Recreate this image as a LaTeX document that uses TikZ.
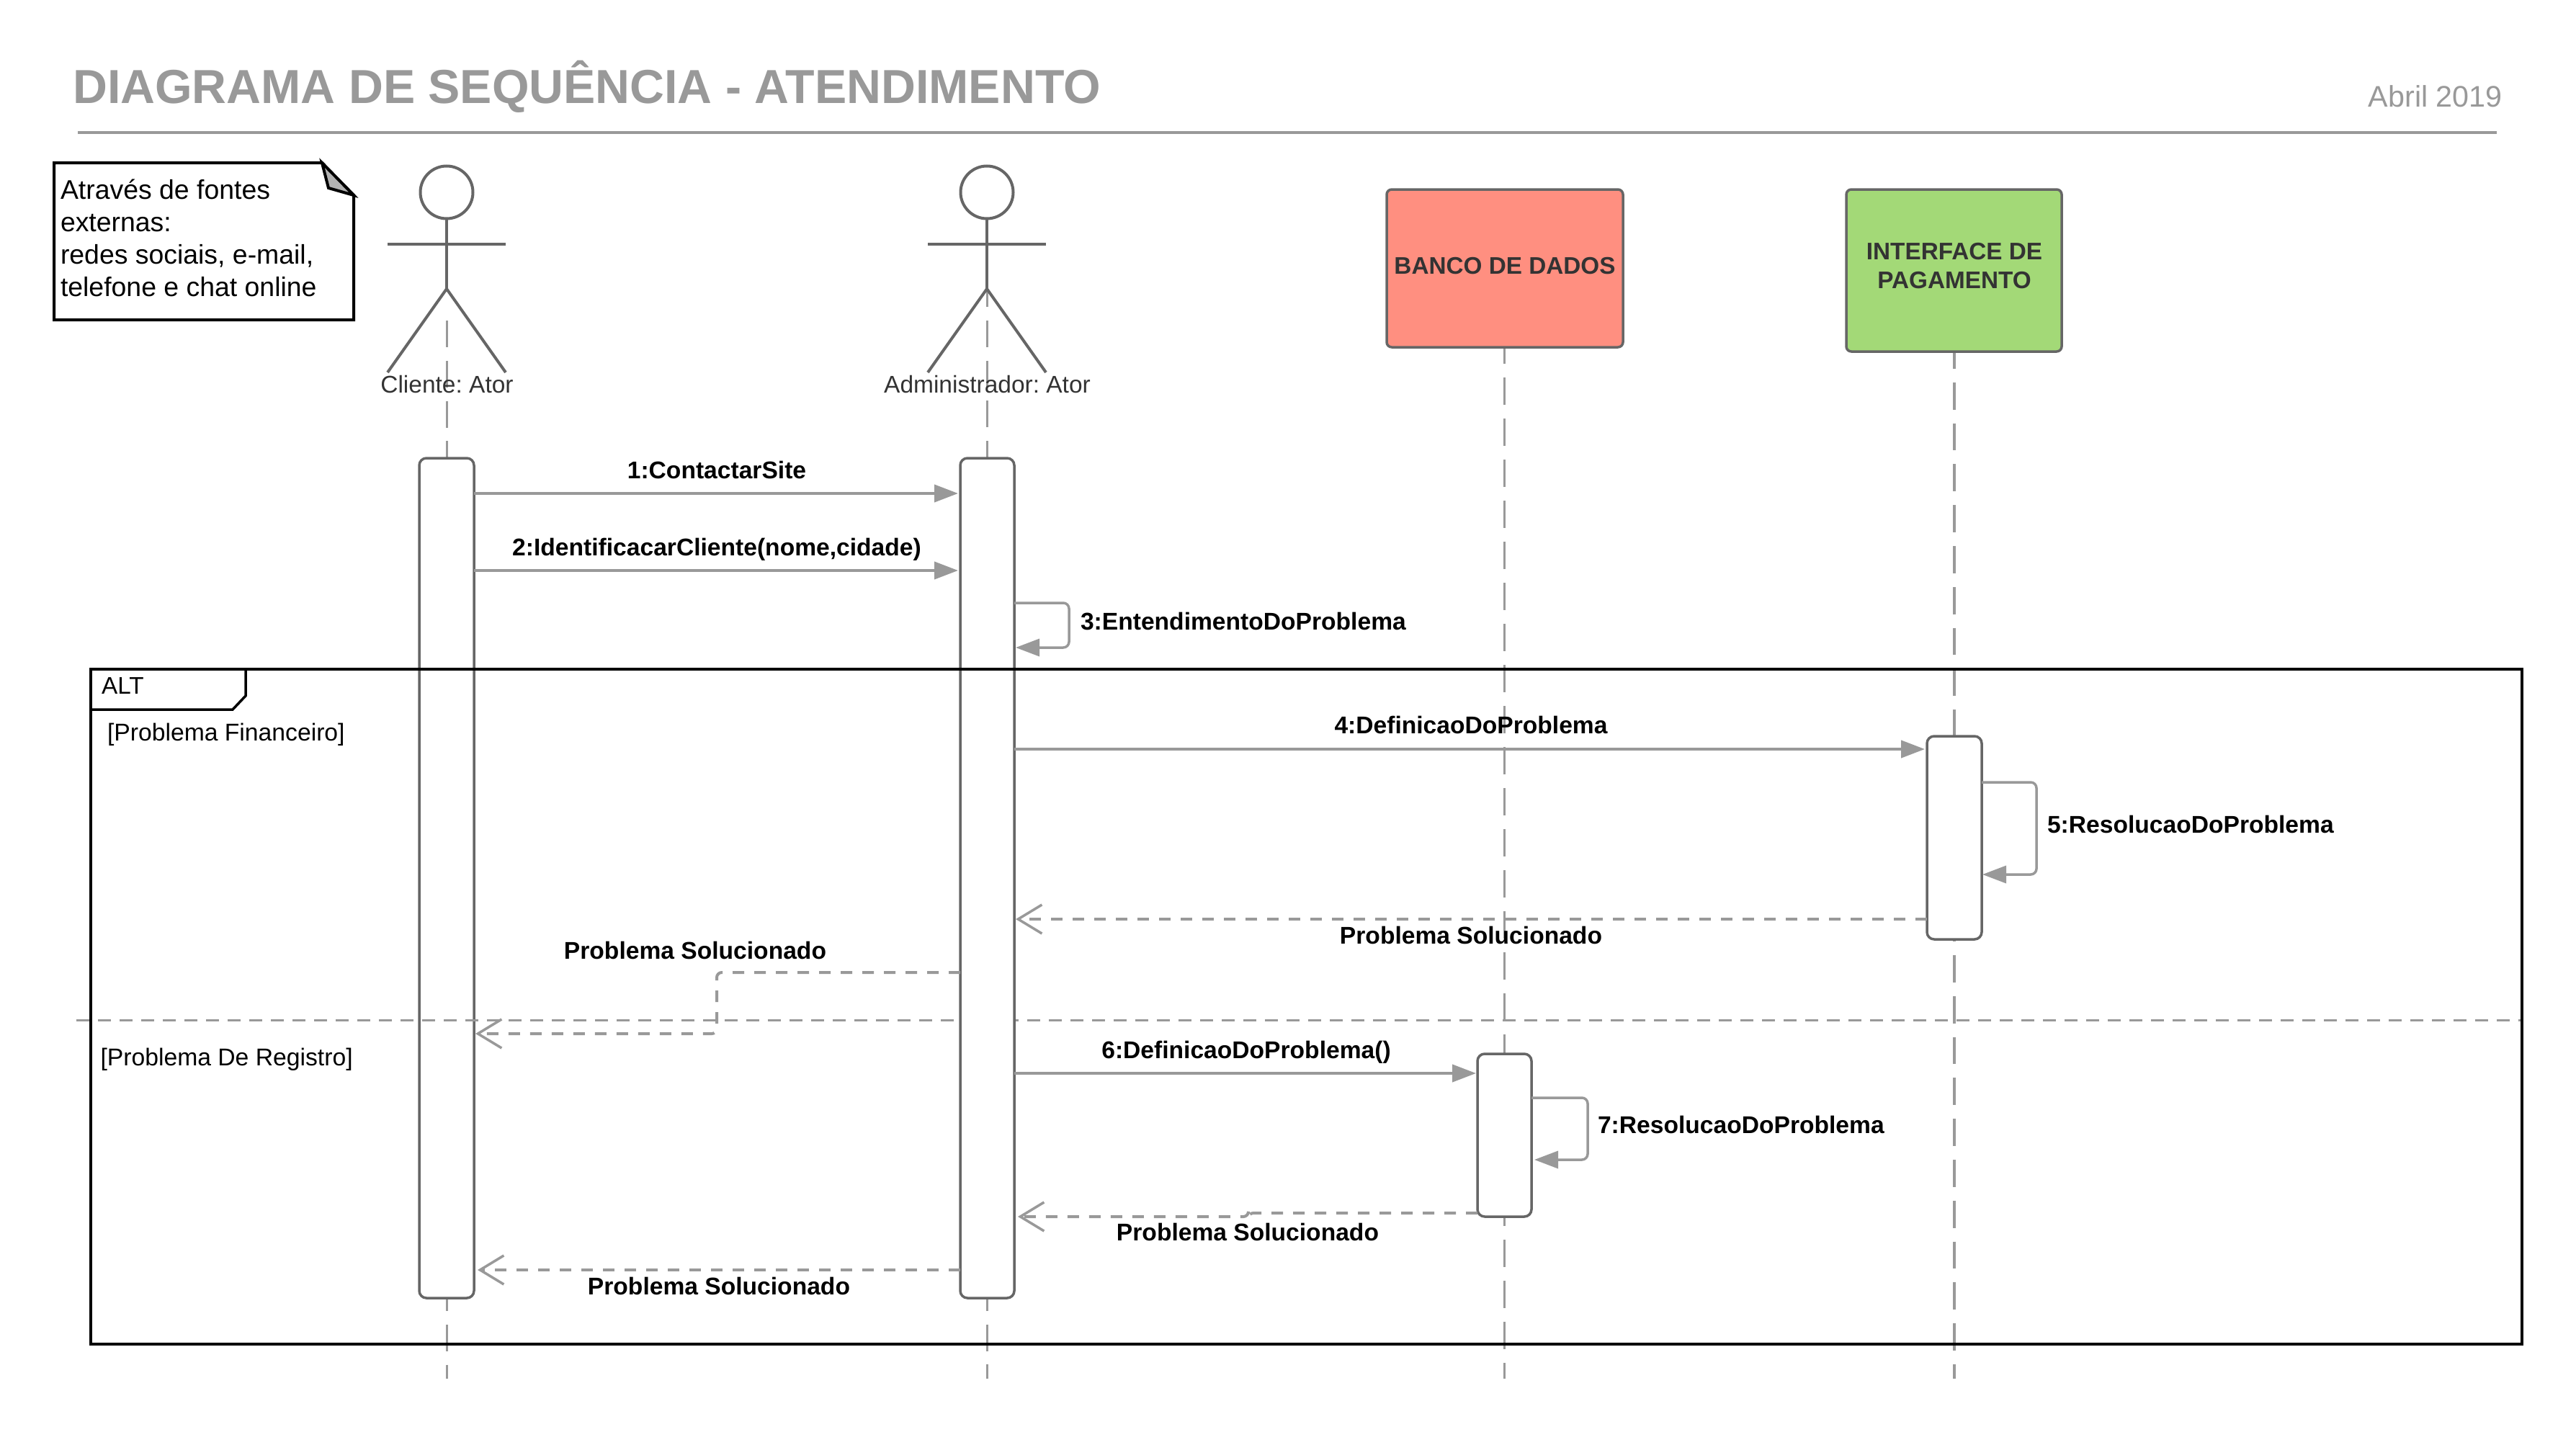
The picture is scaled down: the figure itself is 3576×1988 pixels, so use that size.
\documentclass[tikz,border=0pt]{standalone}
\usepackage{fontspec}
\setmainfont{Liberation Sans}
\usetikzlibrary{arrows.meta}
\definecolor{ink}{HTML}{333333}
\definecolor{edge}{HTML}{666666}
\definecolor{msg}{HTML}{999999}
\definecolor{salmon}{HTML}{FF8F80}
\definecolor{leaf}{HTML}{A3D977}
\newcommand{\txt}{\frenchspacing\fontsize{33.3}{40}\selectfont}
\newcommand{\actortxt}{\frenchspacing\fontsize{33.5}{40}\selectfont}
\newcommand{\guardtxt}{\frenchspacing\fontsize{33.7}{40}\selectfont}
\newcommand{\msgtxt}{\frenchspacing\fontsize{33.6}{40}\selectfont\bfseries}
\tikzset{
  x=1pt,y=-1pt,
  lab/.style={inner sep=0pt,outer sep=0pt,font=\txt,text=ink},
  msglab/.style={inner sep=0pt,outer sep=0pt,font=\msgtxt,text=black},
  guard/.style={inner sep=0pt,outer sep=0pt,font=\guardtxt,text=black,anchor=base west},
  notetxt/.style={inner sep=0pt,outer sep=0pt,font=\frenchspacing\fontsize{37.4}{45}\selectfont,text=black,anchor=base west},
  activation/.style={draw=edge,fill=white,line width=3.5pt,rounded corners=10pt,inner sep=0pt,outer sep=0pt},
  headbox/.style={draw=edge,line width=3.5pt,rounded corners=7pt,inner sep=0pt,outer sep=0pt,font=\txt\bfseries,text=ink,align=center},
  lifeline/.style={draw=msg,line width=3pt,dash pattern=on 38pt off 19pt},
  actorline/.style={draw=msg,line width=3pt,dash pattern=on 37pt off 18.75pt},
  limb/.style={draw=edge,line width=4pt},
  call/.style={draw=msg,line width=4pt,-{Triangle[length=33pt,width=24pt]}},
  selfcall/.style={draw=msg,line width=3.5pt,rounded corners=8pt,-{Triangle[length=33pt,width=24pt]}},
  reply/.style={draw=msg,line width=4pt,rounded corners=7pt,dash pattern=on 16pt off 14pt,-{Straight Barb[length=33pt,width=40pt,line width=3.5pt]}},
}
\begin{document}
\begin{tikzpicture}
\useasboundingbox (0,-2) rectangle (3576,1986);
\fill[white] (0,-2) rectangle (3576,1986);

% title
\node[inner sep=0pt,anchor=base west,font=\fontsize{66.3}{70}\selectfont\bfseries,text=msg] (title) at (101,142) {DIAGRAMA DE SEQUÊNCIA - ATENDIMENTO};
\node[inner sep=0pt,anchor=base east,font=\fontsize{41.3}{48}\selectfont,text=msg] (date) at (3474,146.5) {Abril 2019};
\draw[msg,line width=4pt] (108,182.5) -- (3466,182.5);

% lifeline ends
\coordinate (c1s) at (620,443);  \coordinate (c1e) at (620,1912);
\coordinate (c2s) at (1370,387); \coordinate (c2e) at (1370,1912);
\coordinate (c3s) at (2088,465); \coordinate (c3e) at (2088,1912);
\coordinate (c4s) at (2713,472); \coordinate (c4e) at (2713,1912);
\draw[actorline] (c1s) -- (c1e);
\draw[actorline] (c2s) -- (c2e);
\draw[lifeline] (c3s) -- (c3e);
\draw[lifeline,line width=3.5pt,dash pattern=on 37.8pt off 19pt] (c4s) -- (c4e);

% note
\draw[black,line width=4pt,fill=white,line join=miter] (75,224) -- (447,224) -- (491,269) -- (491,442) -- (75,442) -- cycle;
\draw[black,line width=4pt,fill=black!30,line join=miter] (447,224) -- (456,259) -- (491,269) -- cycle;
\node[notetxt] (n1) at (84,274) {Através de fontes};
\node[notetxt] (n2) at (84,319) {externas:};
\node[notetxt] (n3) at (84,364) {redes sociais, e-mail,};
\node[notetxt] (n4) at (84,409) {telefone e chat online};

% actors
\foreach \cx/\nm/\txtlab in {620/a/Cliente: Ator, 1370/b/Administrador: Ator}{
  \draw[limb] (\cx,265) circle[x radius=36.5pt,y radius=36.5pt];
  \draw[limb] (\cx,301.5) -- (\cx,399);
  \draw[limb] (\cx-82,337) -- (\cx+82,337);
  \draw[limb] (\cx-82,515) -- (\cx,399) -- (\cx+82,515);
  \node[lab,font=\actortxt,anchor=base] (actor\nm) at (\cx+0.5,543) {\txtlab};
}

% heads
\node[headbox,fill=salmon,minimum width=328pt,minimum height=219pt] (db) at (2089,370.5) {};
\node[lab,font=\txt\bfseries,anchor=base] (dbt) at (2089,378) {BANCO DE DADOS};
\node[headbox,fill=leaf,minimum width=299pt,minimum height=225pt] (pay) at (2712.5,373.5) {};
\node[lab,font=\txt\bfseries,anchor=base] (payt1) at (2713,358) {INTERFACE DE};
\node[lab,font=\txt\bfseries,anchor=base] (payt2) at (2713,398) {PAGAMENTO};

% activations and divider
\node[activation,minimum width=76pt,minimum height=1166pt] (act1) at (620,1217) {};
\draw[msg,line width=3pt,dash pattern=on 18pt off 12pt] (106,1414) -- (3501,1414);
\node[activation,minimum width=75pt,minimum height=1166pt] (act2) at (1370.5,1217) {};
\node[activation,minimum width=76pt,minimum height=282pt] (act4) at (2713,1161) {};
\node[activation,minimum width=75pt,minimum height=226pt] (act3) at (2088.5,1574) {};

% frame
\draw[black,line width=4pt] (126,927) rectangle (3501,1864);
\draw[black,line width=3.5pt] (341,927) -- (341,964) -- (323,983) -- (126,983);
\node[inner sep=0pt,anchor=base west,font=\txt,text=black] (alt) at (141,961) {ALT};
\node[guard] (g1) at (149,1026) {[Problema Financeiro]};
\node[guard] (g2) at (139.5,1477) {[Problema De Registro]};

% message rows
\coordinate (m1) at (0,683);
\coordinate (m2) at (0,790);
\coordinate (m3a) at (1484,835);
\coordinate (m3b) at (1484,897);
\coordinate (m4) at (0,1038);
\coordinate (m5a) at (2827,1084);
\coordinate (m5b) at (2827,1212);
\coordinate (m6) at (0,1488);
\coordinate (m7a) at (2204,1522);
\coordinate (m7b) at (2204,1608);
\coordinate (r1) at (0,1274);
\coordinate (r2a) at (995,1348);
\coordinate (r2b) at (995,1433);
\coordinate (r3a) at (1733,1682);
\coordinate (r3b) at (1733,1687);
\coordinate (r4) at (0,1761);

\draw[call,shorten >=3pt] (act1.east |- m1) -- (act2.west |- m1);
\draw[call,shorten >=3pt] (act1.east |- m2) -- (act2.west |- m2);
\draw[selfcall,shorten >=2pt] (act2.east |- m3a) -- (m3a) -- (m3b) -- (act2.east |- m3b);
\draw[call,shorten >=3pt] (act2.east |- m4) -- (act4.west |- m4);
\draw[selfcall,shorten >=1pt] (act4.east |- m5a) -- (m5a) -- (m5b) -- (act4.east |- m5b);
\draw[call,shorten >=2pt] (act2.east |- m6) -- (act3.west |- m6);
\draw[selfcall,shorten >=4pt] (act3.east |- m7a) -- (m7a) -- (m7b) -- (act3.east |- m7b);
\draw[reply,shorten >=2pt] (act4.west |- r1) -- (act2.east |- r1);
\draw[reply,shorten >=2pt] (act2.west |- r2a) -- (r2a) -- (r2b) -- (act1.east |- r2b);
\draw[reply,shorten >=5pt] (act3.west |- r3a) -- (r3a) -- (r3b) -- (act2.east |- r3b);
\draw[reply,shorten >=5pt] (act2.west |- r4) -- (act1.east |- r4);

% message labels
\node[msglab,anchor=base] (l1) at (995,662) {1:ContactarSite};
\node[msglab,anchor=base] (l2) at (995,769) {2:IdentificacarCliente(nome,cidade)};
\node[msglab,anchor=base west] (l3) at (1500,872) {3:EntendimentoDoProblema};
\node[msglab,anchor=base] (l4) at (2042,1016) {4:DefinicaoDoProblema};
\node[msglab,anchor=base west] (l5) at (2842,1154) {5:ResolucaoDoProblema};
\node[msglab,anchor=base] (l6) at (1730,1467) {6:DefinicaoDoProblema()};
\node[msglab,anchor=base west] (l7) at (2218,1571) {7:ResolucaoDoProblema};
\node[msglab,anchor=base] (p1) at (2042,1308) {Problema Solucionado};
\node[msglab,anchor=base] (p2) at (965,1329) {Problema Solucionado};
\node[msglab,anchor=base] (p3) at (1732,1720) {Problema Solucionado};
\node[msglab,anchor=base] (p4) at (998,1795) {Problema Solucionado};
\end{tikzpicture}
\end{document}
